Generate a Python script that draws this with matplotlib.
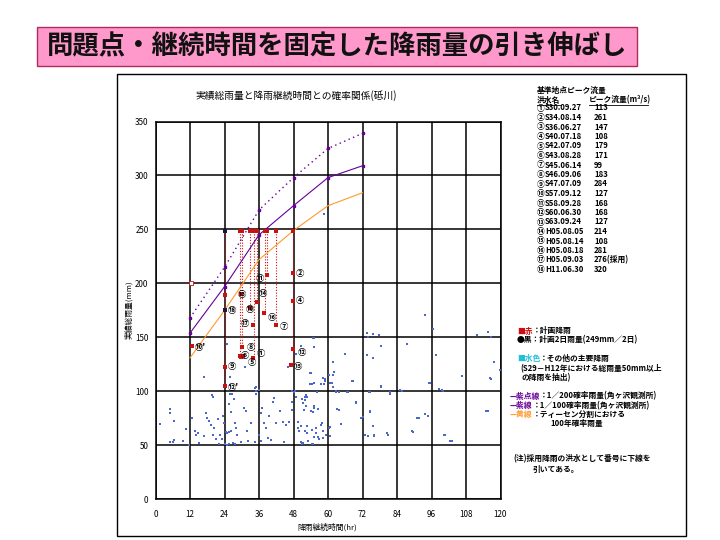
import matplotlib
matplotlib.use('Agg')
import matplotlib.pyplot as plt
from matplotlib.patches import Rectangle
from matplotlib.lines import Line2D

plt.rcParams['font.family'] = ['Noto Sans CJK JP', 'DejaVu Sans']

# ***************************
# Data
# ***************************

# probability curves (duration hr -> total rainfall mm)
dur = [12, 24, 36, 48, 60, 72]
rain_200 = [168, 215, 268, 298, 325, 339]
rain_100 = [154, 197, 245, 272, 298, 309]
rain_thiessen = [131, 175, 222, 249, 272, 284]

# other main rainfall events (blue)
blue_x = [1.7, 4.9, 4.9, 6.6, 4.9, 6.0, 6.6, 9.5, 10.6, 11.8, 12.6, 13.9, 14.0, 14.7, 15.3,
          17.0, 17.6, 17.8, 18.7, 19.3, 19.7, 19.9, 20.5, 21.0, 21.6, 22.2, 22.5, 23.0, 23.4,
          23.7, 24.5, 25.0, 25.7, 26.3, 25.7, 26.2, 26.0, 27.4, 27.8, 28.0, 24.2, 24.8, 25.7,
          26.8, 27.8, 28.5, 29.7, 30.9, 31.4, 31.8, 32.0, 33.2, 34.7, 34.9, 34.7, 36.0, 36.6,
          36.6, 37.2, 37.8, 38.4, 39.0, 39.5, 40.0, 40.7, 41.3, 41.8, 43.2, 44.2, 44.7, 45.3,
          46.5, 47.6, 47.6, 47.6, 49.4, 49.6, 50.0, 50.5, 51.0, 51.0, 51.3, 52.3, 52.8, 53.6,
          54.0, 54.3, 54.6, 55.1, 55.7, 56.9, 58.0, 58.3, 59.2, 60.3, 61.5, 62.7, 63.2, 64.4,
          66.7, 68.4, 69.6, 71.6, 72.8, 74.2, 74.5, 75.6, 76.0, 78.3, 80.6, 81.7, 85.0, 89.2,
          91.0, 93.9, 95.0, 98.5, 99.7, 100.2, 102.5, 115.0, 116.4,
          93.7, 96.6, 54.8, 65.8, 61.7, 61.7, 58.8, 60.6, 61.7, 54.2, 55.0, 53.6, 57.7, 68.7,
          62.9, 63.8, 67.0, 73.4, 75.7, 77.7, 74.0, 78.6, 73.7, 75.7, 74.5, 78.6, 81.7, 85.6,
          87.6, 97.6, 95.5, 98.7, 99.9, 106.7, 111.7, 115.8, 116.6, 117.9, 119.7, 116.6, 115.8,
          69.7, 74.5, 72.0, 75.7, 63.7, 60.6, 60.6, 74.0, 76.0, 80.7, 89.7, 91.6, 94.9, 100.7,
          103.0,
          52.7, 51.9, 51.3, 52.2, 51.5, 55.3, 56.5, 54.8, 52.7, 50.7, 55.9, 57.7, 58.3, 51.9,
          55.3, 56.5, 58.3, 53.0, 51.3, 54.8,
          55.0, 58.6, 24.9, 55.0, 61.7, 54.0, 60.3, 17.0, 26.0, 54.5, 58.5, 59.0, 62.0, 26.0,
          35.0, 20.0, 26.6, 35.0, 49.0, 52.0, 56.0, 48.5, 31.0, 46.2, 48.2, 48.8, 36.0, 50.7]
blue_y = [70, 84, 80, 73, 53, 53, 55, 54, 65, 50, 75, 63, 60, 61, 52,
          59, 80, 75, 73, 69, 97, 60, 66, 56, 74, 51, 60, 56, 77,
          71, 62, 61, 62, 63, 88, 81, 98, 93, 71, 66, 51, 50, 51,
          52, 51, 60, 53, 85, 82, 63, 54, 71, 103, 98, 53, 60, 54,
          80, 85, 71, 66, 57, 77, 55, 90, 94, 71, 82, 72, 53, 69,
          72, 100, 90, 83, 72, 66, 63, 53, 51, 93, 89, 97, 61, 107,
          82, 64, 51, 85, 61, 56, 71, 112, 60, 66, 108, 100, 84, 70,
          99, 110, 90, 75, 60, 99, 82, 68, 60, 105, 61, 99, 101, 63,
          75, 79, 108, 102, 101, 60, 54, 82, 112,
          171, 158, 149, 135, 127, 115, 111, 108, 104, 107, 108, 117, 107, 110,
          99, 99, 99, 154, 153, 152, 150, 142, 134, 131, 99, 104, 98, 100,
          144, 134, 108, 102, 100, 114, 152, 155, 150, 127, 120, 111, 82,
          89, 81, 76, 68, 83, 67, 59, 59, 59, 60, 62, 75, 77, 60,
          54,
          95, 92, 89, 86, 83, 86, 84, 81, 68, 68, 66, 69, 63, 63,
          58, 58, 57, 54, 52, 51,
          149, 264, 144, 141, 127, 117, 115, 113, 113, 107, 107, 110, 118, 106,
          104, 95, 98, 100, 95, 95, 99, 100, 123, 123, 99.6, 135, 101, 142]

# actual plan rainfall events (red)
red_x = [12.8, 24.2, 24.0, 24.0, 30.0, 29.5, 30.4, 29.8, 34.0, 35.2, 37.8, 41.8, 34.0,
         47.9, 47.9, 47.1, 38.9, 47.9, 29.6, 32.9]
red_y = [142, 189, 123, 105, 141, 132.5, 133, 131.5, 131, 182.7, 172.8, 161.7, 161.7,
         184, 139, 124, 207.4, 209.5, 190, 177]
open_x = [12.5]
open_y = [200]

# plan 2-day rainfall (black)
black_x = [24, 24]
black_y = [249, 175]

# events stretched to 249 mm: duration and lowest actual value on each drop line
plan_rain = 249
drop_x = [24, 29.4, 30.2, 32.9, 34.3, 35.2, 38.1, 38.8, 41.8, 47.9]
drop_low = [105, 132, 141, 177, 131, 183, 173, 207, 162, 124]

# event number labels
label_x = [36.3, 50.3, 30.2, 37.3, 50.3, 26.5, 32.9, 40.6, 44.8, 31.1, 33.2, 36.7, 51.0,
           31.0, 33.6, 26.5, 49.7, 27.0, 15.5]
label_y = [205, 209, 189.5, 191, 184, 175, 176, 168, 160.5, 162.6, 141, 135, 136.4,
           133.0, 126.8, 123.4, 123.4, 104, 140.4]
label_txt = ['⑪', '②', '⑬', '⑭', '④', '⑱', '⑩', '⑯', '⑦', '⑰', '⑧', '①', '⑫',
             '⑥', '⑤', '⑨', '⑮', "⑫'", "⑩'"]

# peak discharge table
flood_no = ['①', '②', '③', '④', '⑤', '⑥', '⑦', '⑧', '⑨', '⑩', '⑪', '⑫', '⑬', '⑭',
            '⑮', '⑯', '⑰', '⑱']
flood_date = ['S30.09.27', 'S34.08.14', 'S36.06.27', 'S40.07.18', 'S42.07.09', 'S43.08.28',
              'S45.06.14', 'S46.09.06', 'S47.07.09', 'S57.09.12', 'S58.09.28', 'S60.06.30',
              'S63.09.24', 'H05.08.05', 'H05.08.14', 'H05.08.18', 'H05.09.03', 'H11.06.30']
peak_flow = ['113', '261', '147', '108', '179', '171', '99', '183', '284', '127', '168',
             '168', '127', '214', '108', '281', '276(採用)', '320']

W, H = 720, 540
fx = lambda px: px / W
fy = lambda py: 1 - py / H

BLUE = '#4a68cc'
RED = '#cc1010'
PURPLE = '#660099'
ORANGE = '#ff9a2e'

fig = plt.figure(figsize=(7.2, 5.4), dpi=100)
fig.patch.set_facecolor('white')

# slide title
fig.add_artist(Rectangle((fx(37), fy(66)), fx(637) - fx(37), fy(27) - fy(66),
                         transform=fig.transFigure, facecolor='#ff99cc',
                         edgecolor='#b02a5a', lw=1.0))
fig.text(fx(337), fy(47), '問題点・継続時間を固定した降雨量の引き伸ばし', fontsize=19,
         fontweight='bold', ha='center', va='center', color='#111111')

# frame around the chart
fig.add_artist(Rectangle((fx(117), fy(536)), fx(686) - fx(117), fy(74) - fy(536),
                         transform=fig.transFigure, facecolor='none',
                         edgecolor='black', lw=1.0))

# ***************************
# Chart
# ***************************
ax = fig.add_axes([fx(155.5), fy(499.3), fx(500.5) - fx(155.5), fy(121.5) - fy(499.3)])
ax.set_xlim(0, 120)
ax.set_ylim(0, 350)
ax.set_xticks(range(0, 121, 12))
ax.set_yticks(range(0, 351, 50))
ax.grid(True, color='black', lw=1.1)
ax.set_axisbelow(True)
for sp in ax.spines.values():
    sp.set_linewidth(1.1)
ax.tick_params(length=0, labelsize=5.8)
ax.tick_params(axis='x', pad=8)
ax.tick_params(axis='y', pad=5)

ax.scatter(blue_x, blue_y, s=4.5, marker='s', color=BLUE, lw=0, zorder=3)

for x, low in zip(drop_x, drop_low):
    ax.plot([x, x], [plan_rain, low], color=RED, ls=(0, (1, 1.5)), lw=0.8, zorder=4)
ax.scatter(drop_x[1:], [plan_rain] * (len(drop_x) - 1), s=5, marker='s', color=RED,
           lw=0, zorder=5)

ax.plot(dur, rain_200, color=PURPLE, ls=(0, (1, 2.5)), lw=1.0, marker='s', ms=2,
        zorder=4)
ax.plot(dur, rain_100, color=PURPLE, lw=0.8, marker='s', ms=2, zorder=4)
ax.plot(dur, rain_thiessen, color=ORANGE, lw=0.8, zorder=4)

ax.scatter(red_x, red_y, s=5, marker='s', color=RED, lw=0, zorder=5)
ax.scatter(open_x, open_y, s=7, marker='s', facecolor='white', edgecolor=RED, lw=0.6,
           zorder=5)
ax.scatter(black_x, black_y, s=6, marker='s', color='#1a1a40', lw=0, zorder=6)

for x, y, t in zip(label_x, label_y, label_txt):
    ax.text(x, y, t, fontsize=6, fontweight='bold', ha='center', va='center',
            color='black', zorder=7)

fig.text(fx(296), fy(96), '実績総雨量と降雨継続時間との確率関係(砥川)', fontsize=7,
         ha='center', va='center')
fig.text(fx(129), fy(310), '実績総雨量(mm)', fontsize=5.6, rotation=90,
         ha='center', va='center')
fig.text(fx(327), fy(527), '降雨継続時間(hr)', fontsize=5.6, ha='center', va='center')

# ***************************
# Legend / table text
# ***************************
fs = 5.6
fig.text(fx(537), fy(90), '基準地点ピーク流量', fontsize=fs, va='center', fontweight='bold')
fig.text(fx(537), fy(100), '洪水名', fontsize=fs, va='center', fontweight='bold')
fig.text(fx(589), fy(100), 'ピーク流量(m³/s)', fontsize=fs, va='center', fontweight='bold')
fig.add_artist(Line2D([fx(537), fx(560)], [fy(104.5), fy(104.5)], color='black', lw=0.6))
fig.add_artist(Line2D([fx(589), fx(648)], [fy(104.5), fy(104.5)], color='black', lw=0.6))
for i in range(len(flood_no)):
    yy = 108 + i * 9.5
    fig.text(fx(537), fy(yy), flood_no[i], fontsize=fs, va='center', fontweight='bold')
    fig.text(fx(545), fy(yy), flood_date[i], fontsize=fs, va='center', fontweight='bold')
    fig.text(fx(594), fy(yy), peak_flow[i], fontsize=fs, va='center', fontweight='bold')

fig.canvas.draw()
rend = fig.canvas.get_renderer()


def colored(px, py, parts):
    for s, c in parts:
        t = fig.text(fx(px), fy(py), s, fontsize=fs, color=c, va='center', ha='left',
                     fontweight='bold')
        px += t.get_window_extent(renderer=rend).width


colored(517, 331, [('■赤', RED), ('：計画降雨', 'black')])
colored(517, 340, [('●黒：計画2日雨量(249mm／2日)', 'black')])
colored(517, 358, [('■水色', '#22c0d8'), ('：その他の主要降雨', 'black')])
colored(520, 369, [('(S29－H12年における総雨量50mm以上', 'black')])
colored(522, 378, [('の降雨を抽出)', 'black')])
colored(510, 396, [('—紫点線', PURPLE), ('：1／200確率雨量(角ヶ沢観測所)', 'black')])
colored(510, 405.5, [('—紫線', PURPLE), ('：1／100確率雨量(角ヶ沢観測所)', 'black')])
colored(510, 414.5, [('—黄線', ORANGE), ('：ティーセン分割における', 'black')])
colored(550, 423.5, [('100年確率雨量', 'black')])
colored(513, 459, [('(注)採用降雨の洪水として番号に下線を', 'black')])
colored(533, 469, [('引いてある。', 'black')])

fig.savefig('out.png', dpi=100)
